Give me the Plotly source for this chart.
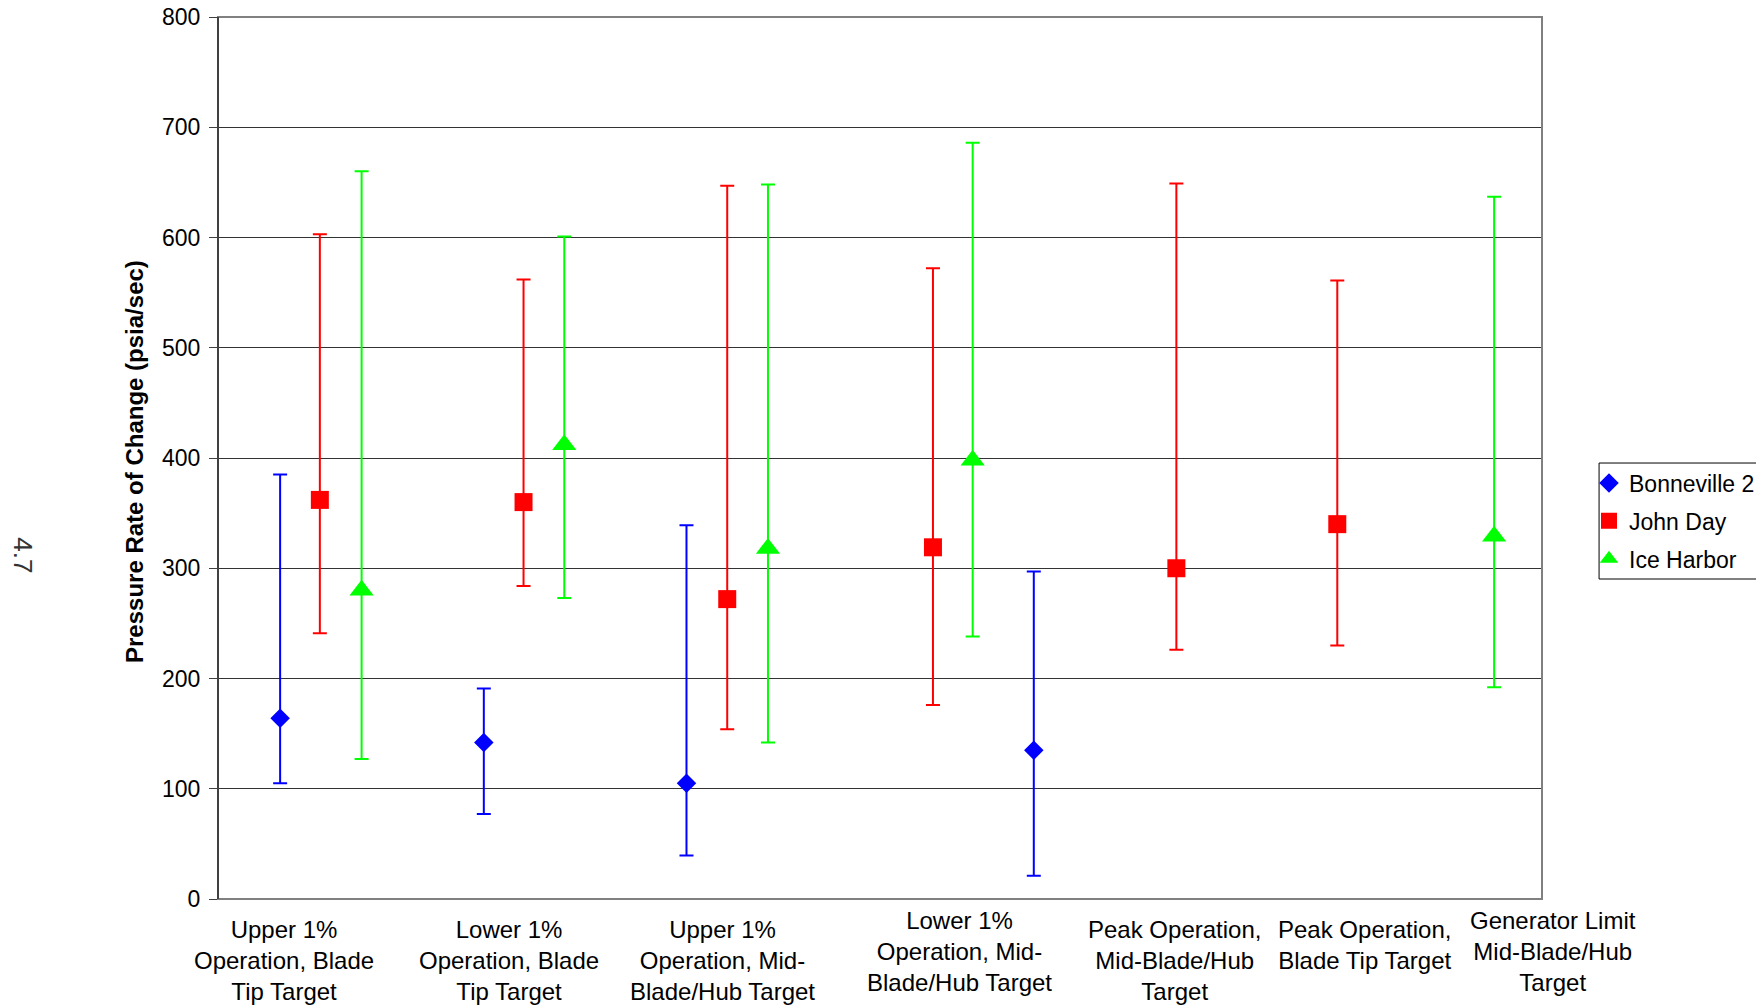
import plotly.graph_objects as go

# ---------------- data ----------------
categories = [
    "Upper 1%<br>Operation, Blade<br>Tip Target",
    "Lower 1%<br>Operation, Blade<br>Tip Target",
    "Upper 1%<br>Operation, Mid-<br>Blade/Hub Target",
    "Lower 1%<br>Operation, Mid-<br>Blade/Hub Target",
    "Peak Operation,<br>Mid-Blade/Hub<br>Target",
    "Peak Operation,<br>Blade Tip Target",
    "Generator Limit<br>Mid-Blade/Hub<br>Target",
]
category_x = [0.65, 2.86, 4.95, 7.28, 9.39, 11.26, 13.11]

bonneville_x = [0.61, 2.61, 4.60, 8.01]
bonneville_mean = [164, 142, 105, 135]
bonneville_low = [105, 77, 39.5, 21]
bonneville_high = [385, 191, 339, 297]

johnday_x = [1.00, 3.00, 5.00, 7.02, 9.41, 10.99]
johnday_mean = [362, 360, 272, 319, 300, 340]
johnday_low = [241, 284, 154, 176, 226, 230]
johnday_high = [603, 562, 647, 572, 649, 561]

iceharbor_x = [1.41, 3.40, 5.40, 7.41, 12.53]
iceharbor_mean = [280, 412, 318, 398, 329]
iceharbor_low = [127, 273, 142, 238, 192]
iceharbor_high = [660, 601, 648, 686, 637]

y_ticks = [0, 100, 200, 300, 400, 500, 600, 700, 800]

# ---------------- figure ----------------
FONT = "Arial, Liberation Sans, sans-serif"
X_RANGE = [0, 13]

series = [
    ("Bonneville 2", bonneville_x, bonneville_mean, bonneville_low, bonneville_high, "#0000FF", "diamond", 15),
    ("John Day", johnday_x, johnday_mean, johnday_low, johnday_high, "#FF0000", "square", 18),
    ("Ice Harbor", iceharbor_x, iceharbor_mean, iceharbor_low, iceharbor_high, "#00FF00", "triangle-up", 21),
]

fig = go.Figure()
for name, xs, mean, low, high, color, symbol, size in series:
    fig.add_trace(go.Scatter(
        x=xs, y=mean, mode="markers", name=name, legendgroup=name,
        marker=dict(color=color, symbol=symbol, size=size, line=dict(width=0)),
        error_y=dict(
            type="data", symmetric=False,
            array=[h - m for h, m in zip(high, mean)],
            arrayminus=[m - l for m, l in zip(mean, low)],
            color=color, thickness=2, width=7,
        ),
    ))

annotations = []
label_shift = [-15, -15, -15, -6, -15, -15, -6]
for text, lx, ys in zip(categories, category_x, label_shift):
    annotations.append(dict(
        text=text, xref="paper", yref="paper",
        x=(lx - X_RANGE[0]) / (X_RANGE[1] - X_RANGE[0]), y=0,
        xanchor="center", yanchor="top", yshift=ys,
        showarrow=False, align="center",
        font=dict(family=FONT, size=24, color="#000000"),
    ))
annotations.append(dict(
    text="<b>Pressure Rate of Change (psia/sec)</b>", xref="paper", yref="paper",
    x=-0.0627, y=0.4966, xanchor="center", yanchor="middle", textangle=-90,
    showarrow=False, font=dict(family=FONT, size=24, color="#000000"),
))
annotations.append(dict(
    text="4.7", xref="paper", yref="paper",
    x=-0.1475, y=0.39, xanchor="center", yanchor="middle", textangle=90,
    showarrow=False, font=dict(family=FONT, size=26, color="#333333"),
))

# page body has an 8px margin, so the figure is drawn 8px smaller and offset
fig.update_layout(
    width=1756, height=1000,
    margin=dict(l=210, r=222, t=9, b=109, autoexpand=False),
    plot_bgcolor="#FFFFFF", paper_bgcolor="#FFFFFF",
    font=dict(family=FONT, size=23, color="#000000"),
    showlegend=True,
    legend=dict(
        x=1.0355, y=0.4286, xanchor="left", yanchor="middle",
        borderwidth=0, bgcolor="rgba(0,0,0,0)",
        font=dict(family=FONT, size=23, color="#000000"),
        itemwidth=30, tracegroupgap=5,
    ),
    xaxis=dict(range=X_RANGE, showgrid=False, zeroline=False, showticklabels=False,
               ticks="", showline=False, fixedrange=True),
    yaxis=dict(range=[0, 800], tickvals=y_ticks, showgrid=True, gridcolor="#333333",
               gridwidth=1, zeroline=False, ticks="outside", ticklen=8, tickwidth=1,
               tickcolor="#404040", showline=False, ticklabelstandoff=4,
               ticklabeloverflow="allow",
               tickfont=dict(family=FONT, size=23, color="#000000")),
    annotations=annotations,
    shapes=[
        dict(type="rect", xref="paper", yref="paper", x0=0, x1=1, y0=0, y1=1,
             line=dict(color="#808080", width=2)),
        dict(type="line", xref="paper", yref="paper", x0=0, x1=0, y0=0, y1=1,
             line=dict(color="#404040", width=2)),
        dict(type="rect", xref="paper", yref="paper", x0=1.0431, x1=1.1662,
             y0=0.3628, y1=0.4943, line=dict(color="#000000", width=1)),
    ],
)

fig.write_html("out.html")
